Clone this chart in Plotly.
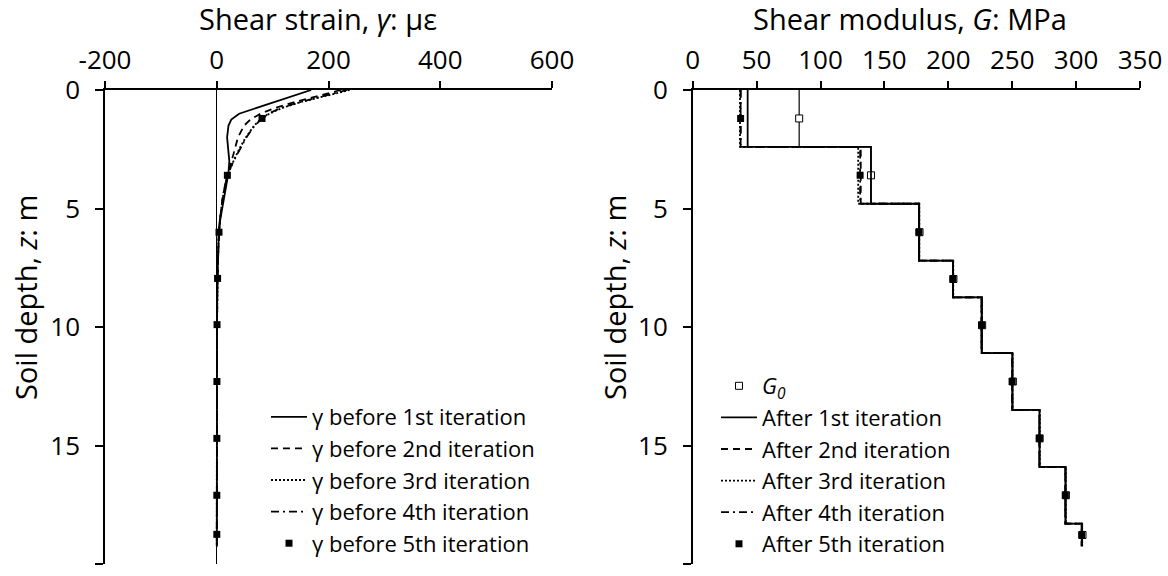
import plotly.graph_objects as go

# ---- shear strain profiles (depth in m, strain in micro-strain) ----
depth = [0, 0.25, 0.5, 0.75, 1.0, 1.25, 1.5, 2.0, 2.5, 3.0, 3.5, 4.0, 4.5,
         5.0, 5.5, 6.0, 7.0, 8.0, 10.0, 12.0, 14.0, 16.0, 18.0, 19.25]
gamma_1 = [169, 137, 104, 70, 40, 26, 21, 18.5, 20, 22.5, 21, 17, 13,
           9.5, 6, 3.8, 1.8, 1.0, 0.5, 0.3, 0.2, 0.1, 0.1, 0.1]
gamma_2 = [222, 180, 140, 105, 78, 60, 49, 38, 32, 26, 20, 15, 11,
           8, 5.5, 3.8, 2.0, 1.2, 0.5, 0.3, 0.2, 0.1, 0.1, 0.1]
gamma_3 = [238, 195, 152, 118, 94, 78, 67, 52, 40, 30, 21, 15.5, 11,
           8, 5.5, 4.0, 2.0, 1.2, 0.5, 0.3, 0.2, 0.1, 0.1, 0.1]
gamma_4 = [234, 192, 150, 115, 92, 79, 68, 53, 41, 30, 20.5, 15, 11,
           8, 5.5, 4.0, 2.0, 1.2, 0.5, 0.3, 0.2, 0.1, 0.1, 0.1]
depth_5 = [1.2, 3.6, 6.0, 7.95, 9.9, 12.3, 14.7, 17.1, 18.75]
gamma_5 = [81, 19, 4, 1.5, 0.5, 0.3, 0.2, 0.1, 0.1]

# ---- shear modulus per soil layer (MPa) ----
layer_top = [0, 2.4, 4.8, 7.2, 8.75, 11.1, 13.5, 15.9, 18.3]
layer_bot = [2.4, 4.8, 7.2, 8.75, 11.1, 13.5, 15.9, 18.3, 19.25]
G_0 = [83.3, 139.5, 177.5, 204.0, 226.5, 250.5, 271.5, 292.0, 305.0]
G_1 = [43.0, 139.5, 177.0, 203.6, 226.0, 250.0, 271.3, 291.6, 304.4]
G_2 = [37.5, 131.5, 177.0, 203.6, 226.0, 250.0, 271.3, 291.6, 304.4]
G_3 = [37.0, 129.5, 177.3, 203.9, 226.3, 250.3, 271.6, 291.9, 304.7]
G_4 = [37.5, 131.0, 177.0, 203.6, 226.0, 250.0, 271.3, 291.6, 304.4]
G_5 = [37.5, 131.0, 177.0, 203.6, 226.0, 250.0, 271.3, 291.6, 304.4]

strain_ticks = [-200, 0, 200, 400, 600]
strain_labels = ["-200", "0", "200", "400", "600"]
modulus_ticks = [0, 50, 100, 150, 200, 250, 300, 350]
depth_ticks = [0, 5, 10, 15, 20]

FONT = "Open Sans"
BLACK = "#000000"
W, H = 1168, 576
TOP, BOTTOM = 90, 12

# dash patterns for the four iteration lines
DASHES = ["solid", "7px,5px", "2px,2px", "8px,4px,2px,4px"]


def step_profile(values):
    xs, ys = [], []
    for g, top, bot in zip(values, layer_top, layer_bot):
        xs += [g, g]
        ys += [top, bot]
    return xs, ys


layer_mid = [(t + b) / 2 for t, b in zip(layer_top, layer_bot)]

fig = go.Figure()

# left panel: strain curves
gamma_series = [gamma_1, gamma_2, gamma_3, gamma_4]
gamma_names = ["γ before 1st iteration", "γ before 2nd iteration",
               "γ before 3rd iteration", "γ before 4th iteration"]
for dash, vals, name in zip(DASHES, gamma_series, gamma_names):
    fig.add_trace(go.Scatter(x=vals, y=depth, mode="lines", name=name,
                             line=dict(color=BLACK, width=1.8, dash=dash),
                             xaxis="x", yaxis="y", legend="legend"))
fig.add_trace(go.Scatter(x=gamma_5, y=depth_5, mode="markers",
                         name="γ before 5th iteration",
                         marker=dict(symbol="square", size=7, color=BLACK),
                         xaxis="x", yaxis="y", legend="legend"))

# right panel: modulus step profiles
gx, gy = step_profile(G_0)
fig.add_trace(go.Scatter(x=gx, y=gy, mode="lines", showlegend=False,
                         line=dict(color=BLACK, width=1.2),
                         xaxis="x2", yaxis="y2", hoverinfo="skip"))
fig.add_trace(go.Scatter(x=G_0, y=layer_mid, mode="markers",
                         name="<i>G<sub>0</sub></i>",
                         marker=dict(symbol="square", size=7, color="white",
                                     line=dict(color=BLACK, width=1)),
                         xaxis="x2", yaxis="y2", legend="legend2"))
G_series = [G_1, G_2, G_3, G_4]
G_names = ["After 1st iteration", "After 2nd iteration",
           "After 3rd iteration", "After 4th iteration"]
for dash, vals, name in zip(DASHES, G_series, G_names):
    sx, sy = step_profile(vals)
    fig.add_trace(go.Scatter(x=sx, y=sy, mode="lines", name=name,
                             line=dict(color=BLACK, width=1.8, dash=dash),
                             xaxis="x2", yaxis="y2", legend="legend2"))
fig.add_trace(go.Scatter(x=G_5, y=layer_mid, mode="markers",
                         name="After 5th iteration",
                         marker=dict(symbol="square", size=7, color=BLACK),
                         xaxis="x2", yaxis="y2", legend="legend2"))

tick_font = dict(family=FONT, size=26, color=BLACK)
axis_common = dict(showgrid=False, showline=True, linecolor=BLACK,
                   linewidth=1.5, ticks="outside", tickcolor=BLACK,
                   tickwidth=1.5, tickfont=tick_font, automargin=False)
legend_common = dict(xanchor="left", yanchor="top",
                     bgcolor="rgba(0,0,0,0)",
                     font=dict(family=FONT, size=22, color=BLACK),
                     itemwidth=36, tracegroupgap=0)


def py(pixel_y):
    return 1 - (pixel_y - TOP) / (H - TOP - BOTTOM)


title_font = dict(family=FONT, size=29, color=BLACK)
annotations = [
    dict(text="Shear strain, <i>γ</i>: με", x=318 / W, y=18,
         xref="paper", yref="paper", showarrow=False, font=title_font),
    dict(text="Shear modulus, <i>G</i>: MPa", x=910 / W, y=18,
         xref="paper", yref="paper", showarrow=False, font=title_font),
    dict(text="Soil depth, <i>z</i>: m", x=25 / W, y=298, textangle=-90,
         xref="paper", yref="paper", showarrow=False, font=title_font),
    dict(text="Soil depth, <i>z</i>: m", x=614 / W, y=298, textangle=-90,
         xref="paper", yref="paper", showarrow=False, font=title_font),
]
for a in annotations:
    a["y"] = py(a["y"])
    a["xanchor"] = "center"
    a["yanchor"] = "middle"

fig.update_layout(
    width=W, height=H,
    margin=dict(l=0, r=0, t=TOP, b=BOTTOM, autoexpand=False),
    paper_bgcolor="white", plot_bgcolor="white",
    font=dict(family=FONT, color=BLACK),
    showlegend=True,
    annotations=annotations,
    xaxis=dict(domain=[105 / W, 552 / W], range=[-200, 600],
               side="top", tickvals=strain_ticks, ticktext=strain_labels,
               ticklen=7, ticklabelstandoff=2,
               zeroline=True, zerolinecolor=BLACK, zerolinewidth=1,
               anchor="y", **axis_common),
    yaxis=dict(domain=[0, 1], range=[20, 0], tickvals=depth_ticks,
               ticklen=8, ticklabelstandoff=10, zeroline=False,
               anchor="x", **axis_common),
    xaxis2=dict(domain=[692.7 / W, 1140 / W], range=[0, 350],
                side="top", tickvals=modulus_ticks, ticklen=7,
                ticklabelstandoff=2, zeroline=False,
                anchor="y2", **axis_common),
    yaxis2=dict(domain=[0, 1], range=[20, 0], tickvals=depth_ticks,
                ticklen=8, ticklabelstandoff=10, zeroline=False,
                anchor="x2", **axis_common),
    legend=dict(x=266 / W, y=py(396), **legend_common),
    legend2=dict(x=716 / W, y=py(365), **legend_common),
)

fig.write_html("out.html")
